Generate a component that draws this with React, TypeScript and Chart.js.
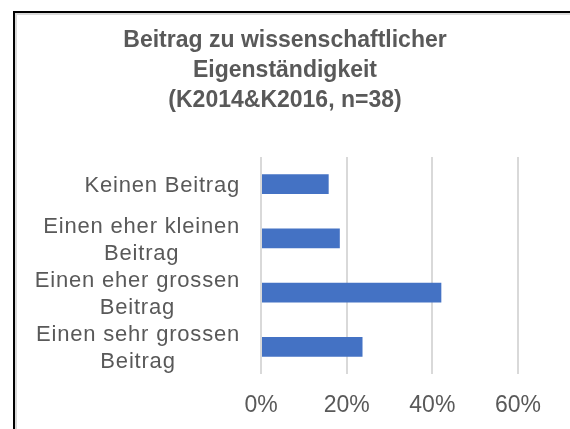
import React, { useEffect, useRef } from "react";
import { Chart, registerables } from "chart.js";

Chart.register(...registerables);

const titleLines = ["Beitrag zu wissenschaftlicher", "Eigenständigkeit", "(K2014&K2016, n=38)"];
const categories: string[][] = [
  ["Keinen Beitrag"],
  ["Einen eher kleinen", "Beitrag"],
  ["Einen eher grossen", "Beitrag"],
  ["Einen sehr grossen", "Beitrag"],
];
const shares = [0.158, 0.184, 0.421, 0.237];
const xTicks = [0, 0.2, 0.4, 0.6];

const TEXT = "#595959";
const FONT = "'Liberation Sans', Arial, sans-serif";

const textPlugin = {
  id: "texts",
  afterDraw(chart: any) {
    const ctx = chart.ctx;
    const y = chart.scales.y;
    ctx.save();
    // title
    ctx.font = `bold 23px ${FONT}`;
    ctx.fillStyle = TEXT;
    ctx.textAlign = "center";
    ctx.textBaseline = "alphabetic";
    titleLines.forEach((line, i) => {
      ctx.fillText(line, 285, 47 + i * 30);
    });
    // category labels
    ctx.font = `22px ${FONT}`;
    (ctx as any).letterSpacing = "0.8px";
    const right = 240;
    const lh = 27;
    categories.forEach((lines, i) => {
      const cy = y.getPixelForValue(i);
      const maxW = Math.max(...lines.map((l) => ctx.measureText(l).width));
      const cx = right - maxW / 2;
      lines.forEach((line, j) => {
        const by = cy + (j - (lines.length - 1) / 2) * lh + 7.9;
        ctx.fillText(line, cx, by);
      });
    });
    ctx.restore();
  },
};

export default function App() {
  const ref = useRef<HTMLCanvasElement | null>(null);
  useEffect(() => {
    if (!ref.current) return;
    const chart = new Chart(ref.current, {
      type: "bar",
      data: {
        labels: categories.map((c) => c.join(" ")),
        datasets: [
          {
            data: shares,
            backgroundColor: "#4472C4",
            borderWidth: 0,
            categoryPercentage: 1,
            barPercentage: 0.36,
          },
        ],
      },
      options: {
        indexAxis: "y",
        responsive: false,
        animation: false,
        events: [],
        layout: { padding: { left: 261, right: 52, top: 157, bottom: 5 } },
        plugins: {
          legend: { display: false },
          tooltip: { enabled: false },
          title: { display: false },
        },
        scales: {
          y: { display: false },
          x: {
            min: 0,
            max: 0.6,
            afterBuildTicks: (axis: any) => {
              axis.ticks = xTicks.map((v) => ({ value: v }));
            },
            afterFit: (axis: any) => {
              axis.height = 50;
            },
            ticks: {
              color: TEXT,
              font: { family: FONT, size: 23 },
              padding: 18,
              callback: (v: any) => `${Math.round(Number(v) * 100)}%`,
            },
            grid: { color: "#d9d9d9", lineWidth: 2, drawTicks: false },
            border: { display: false },
          },
        },
      },
      plugins: [textPlugin],
    });
    return () => chart.destroy();
  }, []);
  return (
    <div style={{ position: "fixed", left: 0, top: 0, width: 570, height: 429, background: "#fff", overflow: "hidden" }}>
      <div
        style={{
          position: "absolute",
          left: 13,
          top: 11,
          width: 600,
          height: 500,
          borderLeft: "2.5px solid #000",
          borderTop: "2.5px solid #000",
          boxShadow: "inset 2px 2px 0 #d9d9d9",
        }}
      />
      <canvas ref={ref} width={570} height={429} style={{ position: "absolute", left: 0, top: 0 }} />
    </div>
  );
}
